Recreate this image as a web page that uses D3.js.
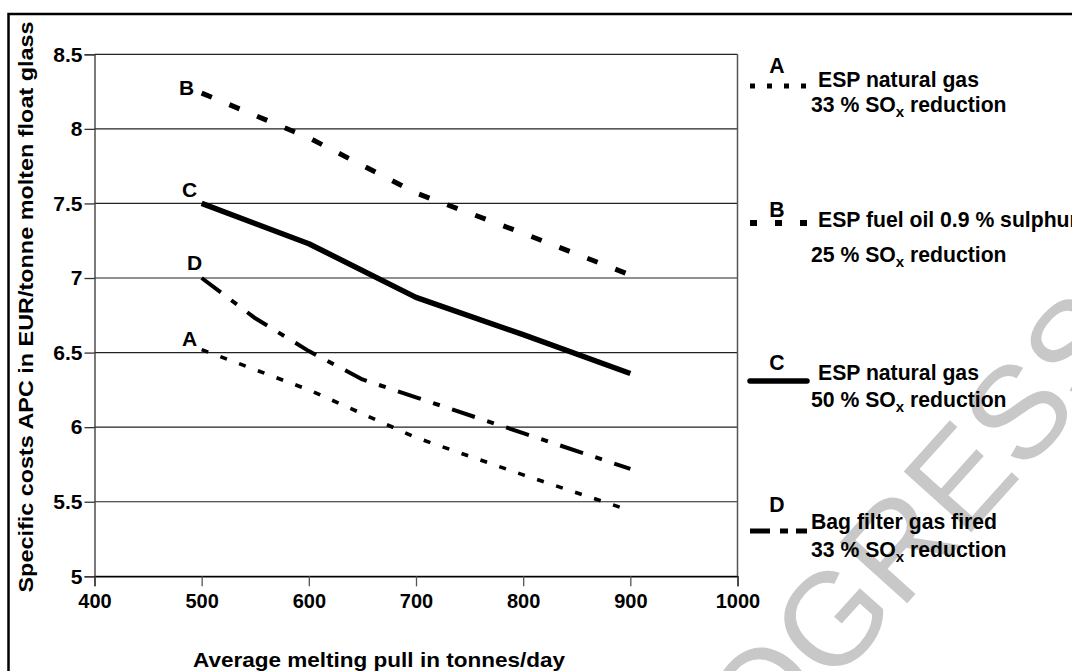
<!DOCTYPE html>
<html>
<head>
<meta charset="utf-8">
<script src="https://cdn.jsdelivr.net/npm/d3@7"></script>
<style>
  html, body { margin: 0; padding: 0; background: #fff; }
  svg { display: block; font-family: "Liberation Sans", Arial, sans-serif; }
</style>
</head>
<body>
<svg width="1072" height="671"></svg>
<script>
// chart values
const xTicks = [400, 500, 600, 700, 800, 900, 1000];
const yTicks = [5, 5.5, 6, 6.5, 7, 7.5, 8, 8.5];

const pull = [500, 600, 700, 800, 900];
const costA = [6.52, 6.25, 5.93, 5.68, 5.44];
const costB = [8.24, 7.94, 7.57, 7.30, 7.02];
const costC = [7.50, 7.23, 6.87, 6.62, 6.36];
const pullD = [500, 550, 600, 650, 700, 800, 900];
const costD = [7.00, 6.73, 6.51, 6.32, 6.20, 5.96, 5.72];

const keys = ["A", "B", "C", "D"];
const legendLine1 = ["ESP natural gas", "ESP fuel oil 0.9 % sulphur", "ESP natural gas", "Bag filter gas fired"];
const legendPct = ["33 %", "25 %", "50 %", "33 %"];

const xTitle = "Average melting pull in tonnes/day";
const yTitle = "Specific costs APC in EUR/tonne molten float glass";

// styles / layout (not data)
const lineStyle = {
    A: {dash: "7,13", width: 3.6, legDash: "5,12", legWidth: 5},
    B: {dash: "11,19", width: 5, legDash: "7,18", legWidth: 6},
    C: {dash: null, width: 5.5, legDash: null, legWidth: 5.5},
    D: {dash: "24,13,7,13", width: 4, legDash: "20,10,8,8", legWidth: 5}
};
const labelOffset = {A: [-12, -4], B: [-15, 2], C: [-12, -6], D: [-7, -8]};
const legendRows = {
    A: {key: 73, line: 86, t1: 87, t2: 112, t1x: 818},
    B: {key: 217, line: 223, t1: 227, t2: 262, t1x: 818},
    C: {key: 370, line: 381, t1: 380, t2: 407, t1x: 818},
    D: {key: 512, line: 531, t1: 529, t2: 557, t1x: 811}
};
const fontFamily = "Liberation Sans, Arial, sans-serif";

const svg = d3.select("svg");
const margin = ({top: 54.3, right: 334.5, bottom: 95, left: 94.5});
const W = +svg.attr("width"), H = +svg.attr("height");

const x = d3.scaleLinear().domain([400, 1000]).range([margin.left, W - margin.right]);
const y = d3.scaleLinear().domain([5, 8.5]).range([576.3, margin.top]);

svg.append("rect").attr("width", W).attr("height", H).attr("fill", "#fff");

// watermark behind everything
svg.append("text")
    .attr("transform", "translate(640,900) rotate(-48)")
    .attr("font-size", 132)
    .attr("fill", "#c8c8c8")
    .text("PROGRESS");

// outer frame
svg.append("rect")
    .attr("x", 8.5).attr("y", 14)
    .attr("width", 1200).attr("height", 800)
    .attr("fill", "none").attr("stroke", "#000").attr("stroke-width", 2.5);

// grid
svg.append("g").selectAll("line")
    .data(yTicks)
    .join("line")
    .attr("x1", x(400)).attr("x2", x(1000))
    .attr("y1", d => y(d)).attr("y2", d => y(d))
    .attr("stroke", "#222").attr("stroke-width", 1.2);

svg.append("line")
    .attr("x1", x(1000)).attr("x2", x(1000))
    .attr("y1", y(8.5)).attr("y2", y(5))
    .attr("stroke", "#555").attr("stroke-width", 1.5);

const yAxis = g => g
    .attr("transform", `translate(${x(400)},0)`)
    .call(d3.axisLeft(y).tickValues(yTicks).tickFormat(d => String(d)).tickSize(10).tickPadding(2))
    .call(g => g.selectAll("path,line").attr("stroke", "#333").attr("stroke-width", 1.3))
    .call(g => g.selectAll("text").attr("font-size", 21).attr("font-weight", "bold").attr("fill", "#000")
        .attr("font-family", fontFamily));

const xAxis = g => g
    .attr("transform", `translate(0,${y(5)})`)
    .call(d3.axisBottom(x).tickValues(xTicks).tickFormat(d => String(d)).tickSize(10).tickPadding(8))
    .call(g => g.select(".domain").attr("stroke", "#000").attr("stroke-width", 1.5))
    .call(g => g.selectAll(".tick line").attr("stroke", "#555").attr("stroke-width", 1.3))
    .call(g => g.selectAll("text").attr("font-size", 20).attr("font-weight", "bold").attr("fill", "#000")
        .attr("font-family", fontFamily));

svg.append("g").call(yAxis);
svg.append("g").call(xAxis);

// axis titles
svg.append("text")
    .attr("transform", `translate(33,307) rotate(-90)`)
    .attr("text-anchor", "middle")
    .attr("font-size", 20.5).attr("font-weight", "bold")
    .attr("textLength", 571).attr("lengthAdjust", "spacingAndGlyphs")
    .text(yTitle);

svg.append("text")
    .attr("x", 193).attr("y", 667)
    .attr("font-size", 21).attr("font-weight", "bold")
    .attr("textLength", 372).attr("lengthAdjust", "spacingAndGlyphs")
    .text(xTitle);

// series
const series = [
    {key: "A", xs: pull, ys: costA},
    {key: "B", xs: pull, ys: costB},
    {key: "C", xs: pull, ys: costC},
    {key: "D", xs: pullD, ys: costD}
].map(s => ({key: s.key, pts: s.xs.map((v, i) => [v, s.ys[i]])}));

const line = d3.line().x(d => x(d[0])).y(d => y(d[1]));

svg.append("g").selectAll("path")
    .data(series)
    .join("path")
    .attr("d", d => line(d.pts))
    .attr("fill", "none")
    .attr("stroke", "#000")
    .attr("stroke-width", d => lineStyle[d.key].width)
    .attr("stroke-dasharray", d => lineStyle[d.key].dash)
    .attr("stroke-linejoin", "round");

svg.append("g").selectAll("text")
    .data(series)
    .join("text")
    .attr("x", d => x(d.pts[0][0]) + labelOffset[d.key][0])
    .attr("y", d => y(d.pts[0][1]) + labelOffset[d.key][1])
    .attr("text-anchor", "middle")
    .attr("font-size", 21).attr("font-weight", "bold")
    .text(d => d.key);

// legend
const leg = svg.append("g").attr("font-size", 21.2).attr("font-weight", "bold");
keys.forEach((k, i) => {
    const r = legendRows[k];
    leg.append("text").attr("x", 777).attr("y", r.key).attr("text-anchor", "middle").text(k);
    leg.append("line")
        .attr("x1", 750).attr("x2", 807)
        .attr("y1", r.line).attr("y2", r.line)
        .attr("stroke", "#000")
        .attr("stroke-width", lineStyle[k].legWidth)
        .attr("stroke-dasharray", lineStyle[k].legDash)
        .attr("stroke-linecap", k === "C" ? "round" : "butt");
    leg.append("text").attr("x", r.t1x).attr("y", r.t1).text(legendLine1[i]);
    const t2 = leg.append("text").attr("x", 811).attr("y", r.t2);
    t2.append("tspan").text(legendPct[i] + " SO");
    t2.append("tspan").attr("font-size", 15).attr("dy", 5).text("x");
    t2.append("tspan").attr("dy", -5).text(" reduction");
});
</script>
</body>
</html>
